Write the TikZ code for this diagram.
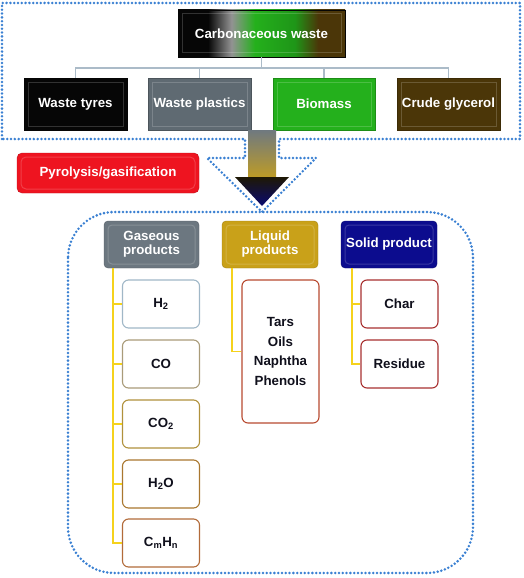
\documentclass[tikz,border=0pt]{standalone}
\usepackage{fontspec}
\setmainfont{Liberation Sans}
\usetikzlibrary{calc}

\definecolor{dotblue}{HTML}{3A80D2}
\definecolor{wblack}{HTML}{060606}
\definecolor{wgray}{HTML}{5F6A72}
\definecolor{wgreen}{HTML}{24B01C}
\definecolor{wbrown}{HTML}{4B3608}
\definecolor{pred}{HTML}{EE1420}
\definecolor{hgray}{HTML}{6C7780}
\definecolor{hgold}{HTML}{C9A119}
\definecolor{hnavy}{HTML}{0C0C8E}
\definecolor{linegray}{HTML}{ABBBC8}
\definecolor{lineyellow}{HTML}{F5D21C}
\definecolor{leaftext}{HTML}{10101C}
\definecolor{lh2}{HTML}{A0B7C7}
\definecolor{lco}{HTML}{A99B79}
\definecolor{lcotwo}{HTML}{B0913C}
\definecolor{lhtwoo}{HTML}{A9772F}
\definecolor{lcmhn}{HTML}{B26B3A}
\definecolor{lliq}{HTML}{B84A30}
\definecolor{lsol}{HTML}{A83030}

\pgfdeclarehorizontalshading{wasteshade}{100bp}{color(0bp)=(wblack); color(34bp)=(wblack);
  color(41bp)=(gray!85); color(48bp)=(wgreen); color(60bp)=(wgreen!85!black);
  color(67bp)=(wbrown); color(100bp)=(wbrown)}

\tikzset{
  bevel/.style={path picture={\draw[white, opacity=.18, line width=1pt]
      ([shift={(4pt,-4pt)}]path picture bounding box.north west) rectangle
      ([shift={(-4pt,4pt)}]path picture bounding box.south east);}},
  head/.style={fill=#1, draw=#1!80!black, text=white, align=center, inner sep=0pt, bevel},
  leaf/.style={draw=#1, line width=1.1pt, fill=white, rounded corners=6pt, text=leaftext,
      align=center, inner sep=0pt, minimum width=77pt, minimum height=48pt},
  busline/.style={draw=linegray, line width=1.4pt},
  yline/.style={draw=lineyellow, line width=1.6pt},
  dotline/.style={dotblue, line width=2.8pt, line cap=round, dash pattern=on 0pt off 3.8pt}
}

\begin{document}
\begin{tikzpicture}[x=1pt, y=-1pt, font=\fontsize{13.3}{14}\selectfont\bfseries]
    \useasboundingbox (0,0) rectangle (524,578);

    % dotted outlines
    \draw[dotline] (2,139) -- (2,3) -- (520,3) -- (520,139) -- (279,139) -- (279,158)
        -- (316,158) -- (262,212) -- (207,158) -- (245,158) -- (245,139) -- cycle;
    \draw[dotline, rounded corners=46pt] (68,212) rectangle (473,573);

    % feedstocks
    \node[shade, shading=wasteshade, draw=wblack, text=white, inner sep=0pt,
        minimum width=167pt, minimum height=47pt, bevel] (cw) at (261.5,33.5) {Carbonaceous waste};
    \node[head=wblack, minimum width=103pt, minimum height=52pt] (tyres) at (75.5,104) {Waste tyres};
    \node[head=wgray, minimum width=103pt, minimum height=52pt] (plastics) at (199.5,104) {Waste plastics};
    \node[head=wgreen, minimum width=102pt, minimum height=52pt] (biomass) at (324,104) {Biomass};
    \node[head=wbrown, minimum width=103pt, minimum height=52pt] (glycerol) at (448.5,104) {Crude glycerol};

    \coordinate (bus) at (262,68);
    \foreach \n in {tyres,plastics,biomass,glycerol}
        \draw[busline] (cw.south) |- (bus -| \n.north) -- (\n.north);

    % process arrow
    \shade[top color=wgray!90, bottom color=hgold] (248,130) rectangle (276,184);
    \shade[top color={black!85!hgold}, bottom color=hnavy!80!black] (235,177) -- (289,177) -- (262,206) -- cycle;
    \node[head=pred, rounded corners=5pt, minimum width=182pt, minimum height=40pt] (pyro) at (108,173) {Pyrolysis/gasification};

    % products
    \node[head=hgray, rounded corners=4pt, minimum width=95pt, minimum height=47pt] (gas) at (151.5,244.5) {Gaseous\\products};
    \node[head=hgold, rounded corners=4pt, minimum width=96pt, minimum height=47pt] (liq) at (270,244.5) {Liquid\\products};
    \node[head=hnavy, rounded corners=4pt, minimum width=96pt, minimum height=47pt] (sol) at (389,244.5) {Solid product};

    \node[leaf=lh2] (h2) at (161,304) {H\textsubscript{2}};
    \node[leaf=lco] (co) at (161,364) {CO};
    \node[leaf=lcotwo] (co2) at (161,424) {CO\textsubscript{2}};
    \node[leaf=lhtwoo] (h2o) at (161,484) {H\textsubscript{2}O};
    \node[leaf=lcmhn] (cmhn) at (161,543) {C\textsubscript{m}H\textsubscript{n}};

    \node[leaf=lliq, minimum height=143pt] (oils) at (280.5,351.5)
        {Tars\\[5.5pt]Oils\\[5.5pt]Naphtha\\[5.5pt]Phenols};

    \node[leaf=lsol] (char) at (399.5,304) {Char};
    \node[leaf=lsol] (residue) at (399.5,364) {Residue};

    \foreach \leafname in {h2,co,co2,h2o,cmhn}
        \draw[yline] ([xshift=9pt]gas.south west) |- (\leafname.west);
    \draw[yline] ([xshift=10pt]liq.south west) |- (oils.west);
    \foreach \leafname in {char,residue}
        \draw[yline] ([xshift=11pt]sol.south west) |- (\leafname.west);
\end{tikzpicture}
\end{document}
